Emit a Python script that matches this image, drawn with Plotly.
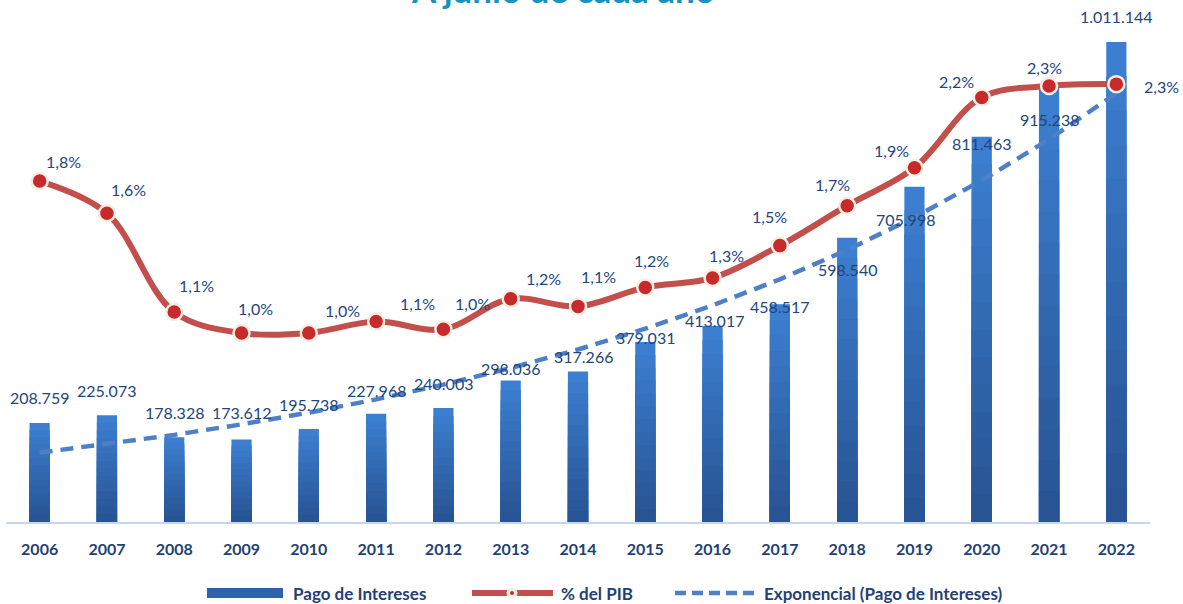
import numpy as np
import plotly.graph_objects as go

# ---------------- data ----------------
years = [str(y) for y in range(2006, 2023)]
pago_intereses = [208759, 225073, 178328, 173612, 195738, 227968, 240003, 298036,
                  317266, 379031, 413017, 458517, 598540, 705998, 811463, 915238, 1011144]
pct_pib = [1.80, 1.63, 1.11, 1.00, 1.00, 1.06, 1.02, 1.18,
           1.14, 1.24, 1.29, 1.46, 1.67, 1.87, 2.24, 2.30, 2.31]

# label nudges (pixels), styling only
bar_label_dy = [25, 25, 25, 27, 25, 23, 25, 12, 15, 5, 5, -2, -32, -33, -7, -32, 25]
bar_label_dx = [0, 0, 0, 0, 0, 0, 0, 0, 5, 0, 2, 0, 0, -9, 0, 0, 0]
pct_label_dx = [24, 22, 22, 14, 34, 41, 29, 33, 20, 6, 14, -10, -15, -23, -25, -5, 45]
pct_label_dy = [20, 24, 27, 24, 22, 18, 26, 20, 30, 27, 22, 29, 21, 17, 16, 19, -2]

# ---------------- layout constants ----------------
W, H = 1183, 604
ML, MR, MT, MB = 6, 33, 30, 82
PW, PH = W - ML - MR, H - MT - MB

def px2x(px):
    return (px - ML) / PW

def px2y(py):
    return (H - MB - py) / PH

LABEL_FONT = dict(family="Lato", size=16, color="#23457e")
DARK = "#243f73"

fig = go.Figure()

# bars with simulated vertical gradient
top_rgb = np.array([60, 127, 208])
bot_rgb = np.array([40, 84, 148])
N = 14
vals = np.array(pago_intereses, dtype=float)
fig.add_trace(go.Bar(x=years, y=pago_intereses, name="Pago de Intereses",
                     marker=dict(color="rgb(%d,%d,%d)" % tuple(top_rgb), line=dict(width=0)),
                     width=0.3, showlegend=False))
for j in range(1, N):
    f = 1 - j / N
    c = top_rgb + (bot_rgb - top_rgb) * (j / (N - 1))
    fig.add_trace(go.Bar(x=years, y=vals * f, marker=dict(color="rgb(%d,%d,%d)" % tuple(c.astype(int)),
                                                         line=dict(width=0)),
                         width=0.3, showlegend=False, hoverinfo="skip"))

# exponential trend line (fitted from the bar values)
xi = np.arange(len(years))
b, a = np.polyfit(xi, np.log(vals), 1)
trend = np.exp(a + b * xi)
fig.add_trace(go.Scatter(x=years, y=trend, mode="lines", name="Exponencial (Pago de Intereses)",
                         line=dict(color="#4d80c6", width=4.5, dash="13px,8px"),
                         showlegend=False))

# % del PIB
fig.add_trace(go.Scatter(x=years, y=pct_pib, yaxis="y2", mode="lines+markers", name="% del PIB",
                         line=dict(color="#c24f4c", width=6, shape="spline", smoothing=1.0),
                         marker=dict(size=16, color="#c8292b", line=dict(color="#f4efe2", width=2.5)),
                         showlegend=False))

annotations = []
for i, v in enumerate(pago_intereses):
    annotations.append(dict(x=i, y=v, xref="x", yref="y", text=f"{v:,}".replace(",", "."),
                            showarrow=False, font=LABEL_FONT, yanchor="middle",
                            xshift=bar_label_dx[i], yshift=bar_label_dy[i]))
for i, v in enumerate(pct_pib):
    annotations.append(dict(x=i, y=v, xref="x", yref="y2",
                            text=f"{v:.1f}".replace(".", ",") + "%",
                            showarrow=False, font=LABEL_FONT, yanchor="middle",
                            xshift=pct_label_dx[i], yshift=pct_label_dy[i]))

# title (partially cut off at top as in reference)
annotations.append(dict(x=px2x(563), y=1, xref="paper", yref="paper", yanchor="bottom",
                        yshift=18, text="<b>A junio de cada año</b>", showarrow=False,
                        font=dict(family="Lato", size=35, color="#1793bf")))

# custom legend
leg_y = 593
LEG_FONT = dict(family="Lato", size=17, color=DARK)
shapes = []
shapes.append(dict(type="rect", xref="paper", yref="paper", x0=px2x(207), x1=px2x(283),
                   y0=px2y(598), y1=px2y(588), fillcolor="#2e62ae", line=dict(width=0)))
annotations.append(dict(x=px2x(291), y=px2y(leg_y), xref="paper", yref="paper", xanchor="left",
                        yanchor="middle",
                        text="<b>Pago de Intereses</b>", showarrow=False, font=LEG_FONT))
shapes.append(dict(type="line", xref="paper", yref="paper", x0=px2x(472), x1=px2x(553),
                   y0=px2y(leg_y), y1=px2y(leg_y), line=dict(color="#c24f4c", width=6)))
shapes.append(dict(type="circle", xref="paper", yref="paper", x0=px2x(507), x1=px2x(517),
                   y0=px2y(leg_y + 5), y1=px2y(leg_y - 5), fillcolor="#f4efe2",
                   line=dict(color="#f4efe2", width=1)))
shapes.append(dict(type="circle", xref="paper", yref="paper", x0=px2x(510), x1=px2x(514),
                   y0=px2y(leg_y + 2), y1=px2y(leg_y - 2), fillcolor="#c8292b",
                   line=dict(width=0)))
annotations.append(dict(x=px2x(559), y=px2y(leg_y), xref="paper", yref="paper", xanchor="left",
                        yanchor="middle",
                        text="<b>% del PIB</b>", showarrow=False, font=LEG_FONT))
shapes.append(dict(type="line", xref="paper", yref="paper", x0=px2x(675), x1=px2x(755),
                   y0=px2y(leg_y), y1=px2y(leg_y),
                   line=dict(color="#4d80c6", width=4.5, dash="11px,6px")))
annotations.append(dict(x=px2x(762), y=px2y(leg_y), xref="paper", yref="paper", xanchor="left",
                        yanchor="middle",
                        text="<b>Exponencial (Pago de Intereses)</b>", showarrow=False, font=LEG_FONT))

fig.update_layout(
    width=W, height=H,
    margin=dict(l=ML, r=MR, t=MT, b=MB),
    paper_bgcolor="white", plot_bgcolor="white",
    barmode="overlay",
    separators=",.",
    showlegend=False,
    xaxis=dict(type="category", showline=True, linecolor="#c6d6ec", linewidth=2,
               showgrid=False, zeroline=False, ticks="outside", ticklen=12,
               tickcolor="rgba(0,0,0,0)",
               tickfont=dict(family="Lato", size=16, color=DARK, weight="bold"),
               range=[-0.5, len(years) - 0.5]),
    yaxis=dict(range=[0, 1036400], showgrid=False, zeroline=False, showline=False,
               showticklabels=False, ticks=""),
    yaxis2=dict(overlaying="y", range=[0.005, 2.595], showgrid=False, side="right",
                zeroline=False, showline=False, showticklabels=False, ticks=""),
    annotations=annotations,
    shapes=shapes,
)

fig.write_html("out.html", config={"displayModeBar": False},
               post_script="document.body.style.margin='0';")
